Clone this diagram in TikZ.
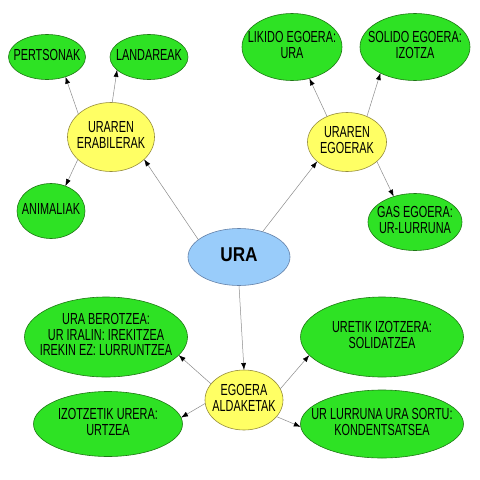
\documentclass[tikz,border=0pt]{standalone}
\usepackage{fontspec}
\setmainfont{Liberation Sans}[FakeStretch=0.68]
\newfontfamily\urafont{Liberation Sans}[FakeStretch=0.86]
\usetikzlibrary{shapes.geometric,arrows.meta}
\definecolor{gfill}{RGB}{46,226,36}
\definecolor{gline}{RGB}{30,120,20}
\definecolor{yfill}{RGB}{255,255,100}
\definecolor{yline}{RGB}{150,140,60}
\definecolor{bfill}{RGB}{153,204,250}
\definecolor{bline}{RGB}{100,130,170}
\definecolor{aline}{RGB}{140,140,140}
\newcommand\mltext[1]{\makebox[0pt]{\begin{tabular}{@{}c@{}}#1\end{tabular}}}
\begin{document}
\begin{tikzpicture}[x=1pt,y=-1pt,
  bub/.style={ellipse, draw, inner sep=0pt, outer sep=0pt, line width=0.6pt,
    font=\fontsize{16}{16}\selectfont},
  gbub/.style={bub, fill=gfill, draw=gline},
  ybub/.style={bub, fill=yfill, draw=yline},
  bbub/.style={bub, fill=bfill, draw=bline},
  arr/.style={draw=aline, line width=0.5pt, -{Latex[length=7pt,width=5pt,color=black]}}]
\fill[white] (0,0) rectangle (480,480);
\useasboundingbox (0,0) rectangle (480,480);

\node[gbub, minimum width=77pt, minimum height=45pt] (pert) at (47,57) {\mltext{PERTSONAK}};
\node[gbub, minimum width=78pt, minimum height=45pt] (land) at (149,57) {\mltext{LANDAREAK}};
\node[ybub, minimum width=87pt, minimum height=69pt] (erab) at (111,137) {\mltext{URAREN\\ERABILERAK}};
\node[gbub, minimum width=68pt, minimum height=55pt] (anim) at (51,211) {\mltext{ANIMALIAK}};

\node[bbub, minimum width=102pt, minimum height=57pt] (ura) at (239,257) {\mltext{\urafont\bfseries\fontsize{20}{20}\selectfont URA}};

\node[gbub, minimum width=100pt, minimum height=67pt] (lik) at (292,47) {\mltext{LIKIDO EGOERA:\\URA}};
\node[gbub, minimum width=110pt, minimum height=67pt] (sol) at (415,47) {\mltext{SOLIDO EGOERA:\\IZOTZA}};
\node[ybub, minimum width=79pt, minimum height=59pt] (ego) at (347,142) {\mltext{URAREN\\EGOERAK}};
\node[gbub, minimum width=94pt, minimum height=57pt] (gas) at (415,222) {\mltext{GAS EGOERA:\\UR-LURRUNA}};

\node[gbub, minimum width=163pt, minimum height=80pt, font=\fontsize{16}{15}\selectfont] (ber) at (106,337) {\mltext{URA BEROTZEA:\\UR IRALIN: IREKITZEA\\IREKIN EZ: LURRUNTZEA}};
\node[gbub, minimum width=149pt, minimum height=65pt] (izo) at (108,424) {\mltext{IZOTZETIK URERA:\\URTZEA}};
\node[ybub, minimum width=78pt, minimum height=60pt] (ald) at (244,400) {\mltext{EGOERA\\ALDAKETAK}};
\node[gbub, minimum width=163pt, minimum height=80pt] (ure) at (382,337) {\mltext{URETIK IZOTZERA:\\SOLIDATZEA}};
\node[gbub, minimum width=163pt, minimum height=68pt] (lur) at (382,424) {\mltext{UR LURRUNA URA SORTU:\\KONDENTSATSEA}};

\draw[arr] (erab.145) -- (pert.313);
\draw[arr] (erab.88) -- (land.202);
\draw[arr] (erab.214) -- (anim.60);
\draw[arr] (ura.157) -- (erab.326);
\draw[arr] (ura.47) -- (ego.213);
\draw[arr] (ego.128) -- (lik.299);
\draw[arr] (ego.52) -- (sol.217);
\draw[arr] (ego.327) -- (gas.130);
\draw[arr] (ura.south) -- (ald.north);
\draw[arr] (ald.154) -- (ber.346);
\draw[arr] (ald.185) -- (izo.5);
\draw[arr] (ald.17) -- (ure.194);
\draw[arr] (ald.333) -- (lur.182);
\end{tikzpicture}
\end{document}
